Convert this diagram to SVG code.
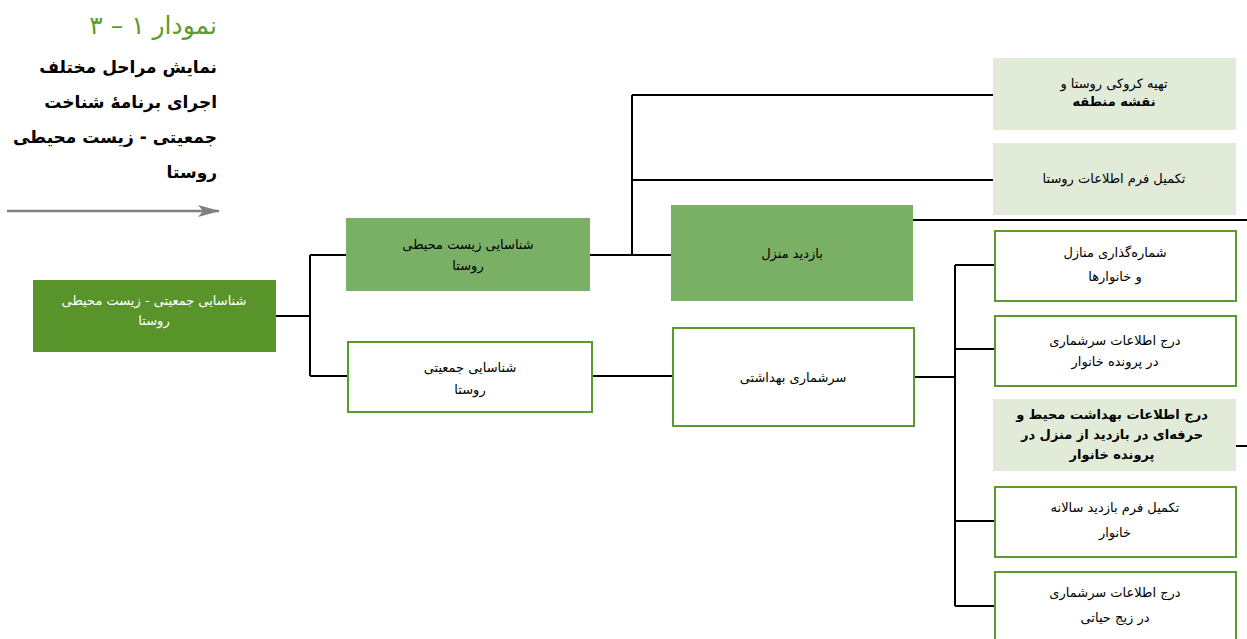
<svg xmlns="http://www.w3.org/2000/svg" width="1247" height="639" viewBox="0 0 1247 639">
  <defs>
    <style>
      .t { font-family: "DejaVu Sans", "Noto Sans", sans-serif; direction: rtl; }
      .lbl { font-size: 13px; text-anchor: middle; fill: #000; }
      .lbl-w { font-size: 13px; text-anchor: middle; fill: #fff; }
      .lbl-b { font-size: 13px; text-anchor: middle; fill: #000; font-weight: bold; }
      .dark { fill: #58942a; }
      .mid { fill: #79b066; }
      .pale { fill: #e2ebd8; }
      .outl { fill: #fff; stroke: #5b9a2c; stroke-width: 2; }
      .wire { fill: none; stroke: #000; stroke-width: 2; }
    </style>
    <marker id="head" viewBox="0 0 22 12" refX="21" refY="6" markerWidth="22" markerHeight="12" markerUnits="userSpaceOnUse" orient="auto">
      <path d="M0,0 L22,6 L0,12 L5,6 Z" fill="#808080"/>
    </marker>
  </defs>

  <rect width="1247" height="639" fill="#fff"/>

  <!-- caption -->
  <g id="caption" class="t">
    <text x="217" y="34" direction="rtl" text-anchor="start" font-size="25" fill="#5e9c2e">نمودار ۱ – ۳</text>
    <text x="217" y="73" direction="rtl" text-anchor="start" font-size="17" font-weight="bold" fill="#000">نمایش مراحل مختلف</text>
    <text x="217" y="108" direction="rtl" text-anchor="start" font-size="17" font-weight="bold" fill="#000">اجرای برنامهٔ شناخت</text>
    <text x="217" y="143" direction="rtl" text-anchor="start" font-size="17" font-weight="bold" fill="#000">جمعیتی - زیست محیطی</text>
    <text x="217" y="178" direction="rtl" text-anchor="start" font-size="17" font-weight="bold" fill="#000">روستا</text>
    <line x1="7" y1="211" x2="219" y2="211" stroke="#808080" stroke-width="2.5" marker-end="url(#head)"/>
  </g>

  <!-- connectors -->
  <g id="connectors" class="wire">
    <path d="M276,316 H310 M310,255 V376 M310,255 H346 M310,376 H347"/>
    <path d="M590,255 H671 M632,95 V255 M632,95 H993 M632,180 H993"/>
    <path d="M913,220 H1247"/>
    <path d="M592,376 H672"/>
    <path d="M914,377 H955 M955,265 V606 M955,265 H994 M955,349 H994 M955,521 H994 M955,606 H994"/>
    <path d="M1236,446 H1247"/>
  </g>

  <!-- nodes -->
  <g id="n-root">
    <rect class="dark" x="33" y="280" width="243" height="72"/>
    <text class="t lbl-w" x="154" y="305">شناسایی جمعیتی - زیست محیطی</text>
    <text class="t lbl-w" x="154" y="325">روستا</text>
  </g>

  <g id="n-env">
    <rect class="mid" x="346" y="218" width="244" height="73"/>
    <text class="t lbl" x="468" y="249">شناسایی زیست محیطی</text>
    <text class="t lbl" x="468" y="270">روستا</text>
  </g>

  <g id="n-pop">
    <rect class="outl" x="348" y="342" width="244" height="70"/>
    <text class="t lbl" x="470" y="372">شناسایی جمعیتی</text>
    <text class="t lbl" x="470" y="394">روستا</text>
  </g>

  <g id="n-visit">
    <rect class="mid" x="671" y="205" width="242" height="96"/>
    <text class="t lbl" x="792" y="258">بازدید منزل</text>
  </g>

  <g id="n-census">
    <rect class="outl" x="673" y="328" width="241" height="98"/>
    <text class="t lbl" x="793" y="382">سرشماری بهداشتی</text>
  </g>

  <g id="n-map">
    <rect class="pale" x="993" y="58" width="243" height="72"/>
    <text class="t lbl" x="1114" y="88">تهیه کروکی روستا و</text>
    <text class="t lbl-b" x="1114" y="106">نقشه منطقه</text>
  </g>

  <g id="n-form">
    <rect class="pale" x="993" y="143" width="243" height="72"/>
    <text class="t lbl" x="1114" y="183">تکمیل فرم اطلاعات روستا</text>
  </g>

  <g id="n-number">
    <rect class="outl" x="995" y="231" width="241" height="70"/>
    <text class="t lbl" x="1115" y="257">شماره‌گذاری منازل</text>
    <text class="t lbl" x="1115" y="281">و خانوارها</text>
  </g>

  <g id="n-record">
    <rect class="outl" x="995" y="316" width="241" height="70"/>
    <text class="t lbl" x="1115" y="345">درج اطلاعات سرشماری</text>
    <text class="t lbl" x="1115" y="366">در پرونده خانوار</text>
  </g>

  <g id="n-health">
    <rect class="pale" x="993" y="399" width="243" height="72"/>
    <text class="t lbl-b" x="1112" y="419">درج اطلاعات بهداشت محیط و</text>
    <text class="t lbl-b" x="1112" y="439">حرفه‌ای در بازدید از منزل در</text>
    <text class="t lbl-b" x="1112" y="459">پرونده خانوار</text>
  </g>

  <g id="n-annual">
    <rect class="outl" x="995" y="487" width="241" height="70"/>
    <text class="t lbl" x="1115" y="512">تکمیل فرم بازدید سالانه</text>
    <text class="t lbl" x="1115" y="537">خانوار</text>
  </g>

  <g id="n-vital">
    <rect class="outl" x="995" y="572" width="241" height="70"/>
    <text class="t lbl" x="1115" y="597">درج اطلاعات سرشماری</text>
    <text class="t lbl" x="1115" y="622">در زیج حیاتی</text>
  </g>
</svg>
